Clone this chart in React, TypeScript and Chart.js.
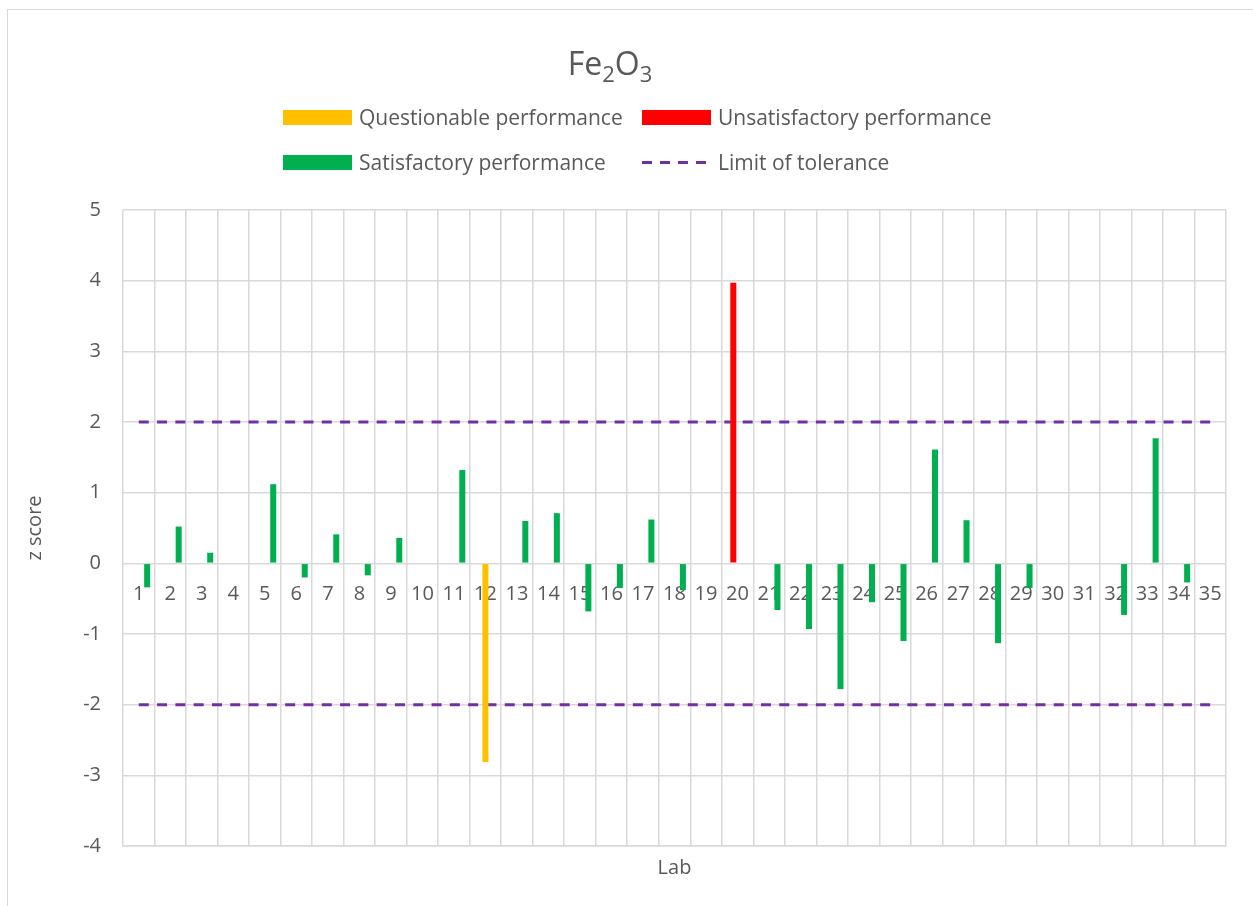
import React, { useEffect, useRef } from "react";
import { Chart, registerables } from "chart.js";

Chart.register(...registerables);

const labs = ["1","2","3","4","5","6","7","8","9","10","11","12","13","14","15","16","17","18","19","20","21","22","23","24","25","26","27","28","29","30","31","32","33","34","35"];

const satisfactory = [-0.34, 0.52, 0.15, null, 1.12, -0.2, 0.41, -0.17, 0.36, null, 1.32, null, 0.6, 0.71, -0.68, -0.35, 0.62, -0.38, null, null, -0.66, -0.93, -1.78, -0.55, -1.1, 1.61, 0.61, -1.13, -0.35, null, null, -0.73, 1.77, -0.27, null];
const questionable = [null, null, null, null, null, null, null, null, null, null, null, -2.81, null, null, null, null, null, null, null, null, null, null, null, null, null, null, null, null, null, null, null, null, null, null, null];
const unsatisfactory = [null, null, null, null, null, null, null, null, null, null, null, null, null, null, null, null, null, null, null, 3.97, null, null, null, null, null, null, null, null, null, null, null, null, null, null, null];
const upperLimit = [2, 2, 2, 2, 2, 2, 2, 2, 2, 2, 2, 2, 2, 2, 2, 2, 2, 2, 2, 2, 2, 2, 2, 2, 2, 2, 2, 2, 2, 2, 2, 2, 2, 2, 2];
const lowerLimit = [-2, -2, -2, -2, -2, -2, -2, -2, -2, -2, -2, -2, -2, -2, -2, -2, -2, -2, -2, -2, -2, -2, -2, -2, -2, -2, -2, -2, -2, -2, -2, -2, -2, -2, -2];
const emptySlot = [null, null, null, null, null, null, null, null, null, null, null, null, null, null, null, null, null, null, null, null, null, null, null, null, null, null, null, null, null, null, null, null, null, null, null];

const FONT = "'Open Sans', 'Noto Sans', sans-serif";
const TEXT = "#595959";
const GRID = "#d9d9d9";
const YELLOW = "#FFC000";
const RED = "#FF0000";
const GREEN = "#00B050";
const PURPLE = "#7030A0";

export default function App() {
  const ref = useRef<HTMLCanvasElement | null>(null);

  useEffect(() => {
    if (!ref.current) return;
    const barCommon = {
      type: "bar" as const,
      categoryPercentage: 0.667,
      barPercentage: 1.43,
      borderWidth: 0,
      order: 0,
      xAxisID: "x",
    };
    const lineCommon = {
      type: "line" as const,
      borderColor: PURPLE,
      borderWidth: 3,
      borderDash: [10, 8.3],
      pointRadius: 0,
      fill: false,
      order: 1,
      xAxisID: "x",
    };
    const chart = new Chart(ref.current, {
      type: "bar",
      data: {
        labels: labs,
        datasets: [
          { ...barCommon, label: "slot", data: emptySlot, backgroundColor: GREEN },
          { ...barCommon, label: "Unsatisfactory performance", data: unsatisfactory, backgroundColor: RED },
          { ...barCommon, label: "Questionable performance", data: questionable, backgroundColor: YELLOW },
          { ...barCommon, label: "slot2", data: emptySlot, backgroundColor: GREEN },
          { ...barCommon, label: "Satisfactory performance", data: satisfactory, backgroundColor: GREEN },
          { ...lineCommon, label: "Limit of tolerance", data: upperLimit },
          { ...lineCommon, label: "Limit of tolerance (lower)", data: lowerLimit },
        ] as any,
      },
      options: {
        responsive: false,
        animation: false,
        devicePixelRatio: 1,
        layout: { padding: { top: 210, right: 27, left: 0, bottom: 0 } },
        plugins: {
          legend: { display: false },
          title: { display: false },
          tooltip: { enabled: false },
        },
        scales: {
          x: {
            type: "category",
            position: "bottom",
            offset: true,
            grid: { display: true, offset: true, color: GRID, lineWidth: 1.5, drawTicks: false },
            border: { display: true, color: GRID, width: 1.5 },
            ticks: { display: false },
            title: {
              display: true,
              text: "Lab",
              color: TEXT,
              font: { family: FONT, size: 20 },
              padding: { top: 0, bottom: 26 },
            },
            afterFit: (s: any) => { s.height = 60; },
          },
          x2: {
            type: "category",
            labels: labs,
            position: { y: 0 } as any,
            offset: true,
            grid: { display: false, drawTicks: false },
            border: { display: false },
            ticks: {
              color: TEXT,
              font: { family: FONT, size: 20 },
              padding: 19,
              maxRotation: 0,
              autoSkip: false,
            },
          },
          y: {
            min: -4,
            max: 5,
            grid: { color: GRID, lineWidth: 1.5, drawTicks: false },
            border: { display: false },
            ticks: {
              stepSize: 1,
              color: TEXT,
              font: { family: FONT, size: 20 },
              padding: 22,
            },
            title: {
              display: true,
              text: "z score",
              color: TEXT,
              font: { family: FONT, size: 20 },
              padding: { top: 23, bottom: 0 },
            },
            afterFit: (s: any) => { s.width = 123; },
          },
        },
      } as any,
    });
    return () => chart.destroy();
  }, []);

  const legendText: React.CSSProperties = {
    position: "absolute",
    fontFamily: FONT,
    fontSize: 21,
    color: TEXT,
    lineHeight: "24px",
    whiteSpace: "nowrap",
  };
  const swatch = (left: number, top: number, color: string): React.CSSProperties => ({
    position: "absolute",
    left,
    top,
    width: 69,
    height: 15,
    background: color,
  });
  const subStyle: React.CSSProperties = { fontSize: 22, verticalAlign: "-7px", lineHeight: 0 };

  return (
    <div style={{ position: "fixed", left: 0, top: 0, width: 1253, height: 906, background: "#fff", overflow: "hidden" }}>
      <div style={{ position: "absolute", left: 7, top: 9, right: -5, bottom: -5, borderLeft: `1px solid ${GRID}`, borderTop: `1px solid ${GRID}` }} />
      <canvas ref={ref} width={1253} height={906} style={{ position: "absolute", left: 0, top: 0, display: "block" }} />
      <div style={{ position: "absolute", left: 0, width: 1220, top: 43, textAlign: "center", fontFamily: FONT, fontSize: 32, color: TEXT, lineHeight: "40px" }}>
        Fe<sub style={subStyle}>2</sub>O<sub style={subStyle}>3</sub>
      </div>
      <div style={swatch(283, 110, YELLOW)} />
      <div style={{ ...legendText, left: 359, top: 105 }}>Questionable performance</div>
      <div style={swatch(642, 110, RED)} />
      <div style={{ ...legendText, left: 718, top: 105 }}>Unsatisfactory performance</div>
      <div style={swatch(283, 155, GREEN)} />
      <div style={{ ...legendText, left: 359, top: 150 }}>Satisfactory performance</div>
      <svg style={{ position: "absolute", left: 642, top: 155, width: 70, height: 15 }}>
        <line x1={0} y1={7.5} x2={70} y2={7.5} stroke={PURPLE} strokeWidth={3} strokeDasharray="10 8" />
      </svg>
      <div style={{ ...legendText, left: 718, top: 150 }}>Limit of tolerance</div>
    </div>
  );
}
